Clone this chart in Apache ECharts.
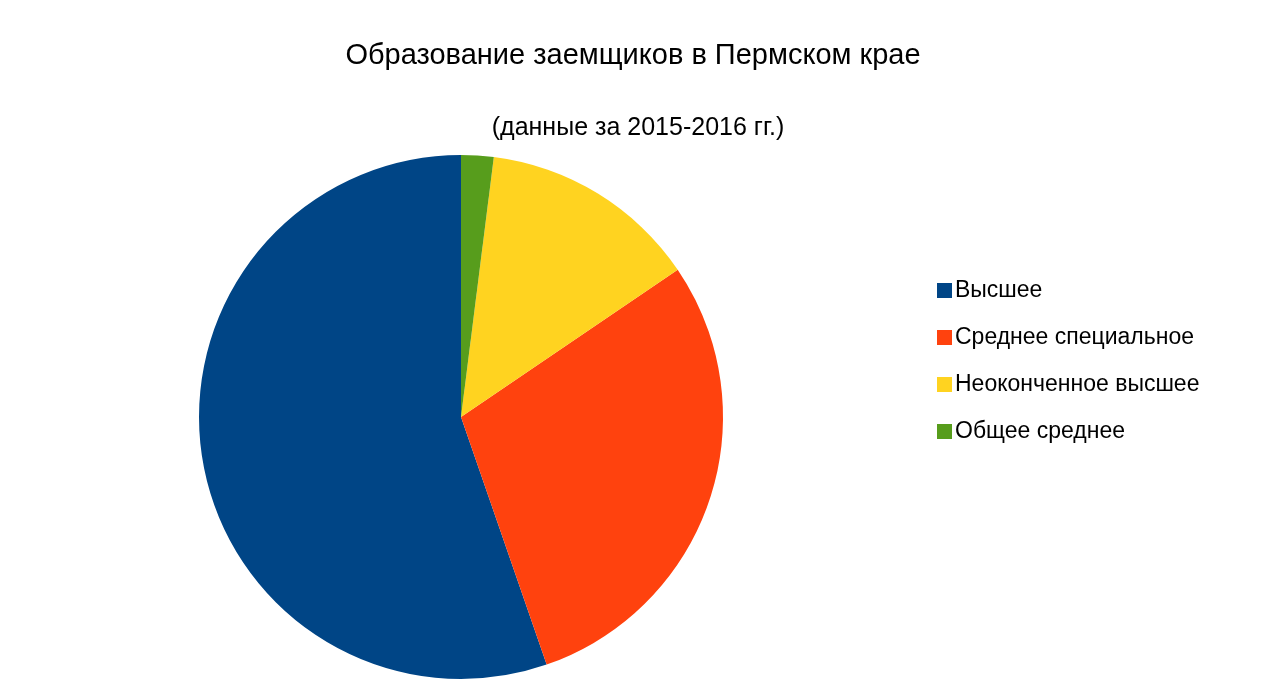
<!DOCTYPE html>
<html><head><meta charset="utf-8">
<script src="https://cdn.jsdelivr.net/npm/echarts@6/dist/echarts.min.js"></script>
<style>html,body{margin:0;padding:0;background:#fff}#c{width:1270px;height:688px}</style>
</head><body><div id="c"></div>
<script>
const categories = ['Высшее', 'Среднее специальное', 'Неоконченное высшее', 'Общее среднее'];
const values = [55.3, 29.2, 13.5, 2.0];
const colors = ['#004586', '#ff420e', '#ffd320', '#579d1c'];
const chart = echarts.init(document.getElementById('c'));
chart.setOption({
  animation: false,
  title: [
    {text: 'Образование заемщиков в Пермском крае', left: 628, top: 36, textAlign: 'center',
     textStyle: {fontFamily: 'Liberation Sans', fontSize: 29, fontWeight: 'normal', color: '#000'}},
    {text: '(данные за 2015-2016 гг.)', left: 633, top: 111, textAlign: 'center',
     textStyle: {fontFamily: 'Liberation Sans', fontSize: 25, fontWeight: 'normal', color: '#000'}}
  ],
  legend: {orient: 'vertical', left: 932, top: 274, itemWidth: 15, itemHeight: 15, itemGap: 24,
    icon: 'rect', textStyle: {fontFamily: 'Liberation Sans', fontSize: 23, color: '#000', padding: [0,0,0,-2]},
    data: categories},
  series: [{
    type: 'pie', center: [461, 417], radius: 262, startAngle: 90, clockwise: false,
    label: {show: false}, labelLine: {show: false},
    itemStyle: {borderWidth: 0},
    data: categories.map((n, i) => ({name: n, value: values[i], itemStyle: {color: colors[i]}}))
  }]
});
</script></body></html>
